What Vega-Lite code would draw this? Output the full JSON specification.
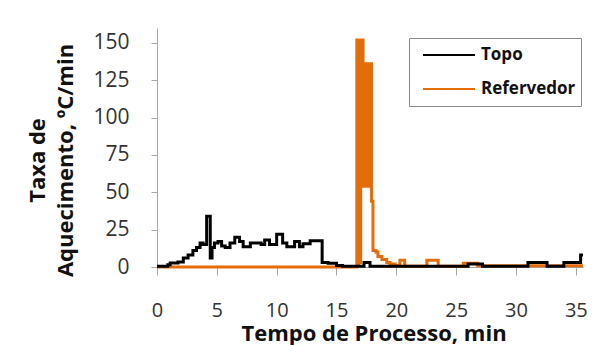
{
  "$schema": "https://vega.github.io/schema/vega-lite/v6.json",
  "width": 426,
  "height": 239,
  "autosize": {"type": "none"},
  "padding": {"left": 157, "top": 28, "right": 29, "bottom": 78},
  "background": "white",
  "config": {"view": {"stroke": null}, "font": "Open Sans"},
  "data": {
    "values": [
      {"serie": "Topo", "t": 0, "v": 0.5},
      {"serie": "Topo", "t": 0.9, "v": 1.5},
      {"serie": "Topo", "t": 1.1, "v": 2.7},
      {"serie": "Topo", "t": 1.75, "v": 3.4},
      {"serie": "Topo", "t": 2.2, "v": 6},
      {"serie": "Topo", "t": 2.6, "v": 8},
      {"serie": "Topo", "t": 3.0, "v": 11},
      {"serie": "Topo", "t": 3.3, "v": 13},
      {"serie": "Topo", "t": 3.6, "v": 16},
      {"serie": "Topo", "t": 3.85, "v": 15},
      {"serie": "Topo", "t": 4.15, "v": 34},
      {"serie": "Topo", "t": 4.45, "v": 6},
      {"serie": "Topo", "t": 4.6, "v": 13},
      {"serie": "Topo", "t": 4.8, "v": 16},
      {"serie": "Topo", "t": 5.1, "v": 17},
      {"serie": "Topo", "t": 5.4, "v": 14},
      {"serie": "Topo", "t": 5.7, "v": 13},
      {"serie": "Topo", "t": 6.1, "v": 16},
      {"serie": "Topo", "t": 6.5, "v": 20},
      {"serie": "Topo", "t": 6.9, "v": 17},
      {"serie": "Topo", "t": 7.2, "v": 13.5},
      {"serie": "Topo", "t": 7.8, "v": 16},
      {"serie": "Topo", "t": 8.7, "v": 15},
      {"serie": "Topo", "t": 9.0, "v": 18},
      {"serie": "Topo", "t": 9.4, "v": 15},
      {"serie": "Topo", "t": 10.0, "v": 22},
      {"serie": "Topo", "t": 10.5, "v": 16},
      {"serie": "Topo", "t": 10.85, "v": 13.5},
      {"serie": "Topo", "t": 11.5, "v": 17},
      {"serie": "Topo", "t": 11.9, "v": 13.5},
      {"serie": "Topo", "t": 12.2, "v": 15.5},
      {"serie": "Topo", "t": 12.8, "v": 17.5},
      {"serie": "Topo", "t": 13.8, "v": 3},
      {"serie": "Topo", "t": 14.3, "v": 2.5},
      {"serie": "Topo", "t": 15.0, "v": 1},
      {"serie": "Topo", "t": 15.5, "v": 0.5},
      {"serie": "Topo", "t": 17.3, "v": 3},
      {"serie": "Topo", "t": 17.8, "v": 0.5},
      {"serie": "Topo", "t": 26.0, "v": 2},
      {"serie": "Topo", "t": 27.2, "v": 0.5},
      {"serie": "Topo", "t": 31.0, "v": 3},
      {"serie": "Topo", "t": 32.6, "v": 0.5},
      {"serie": "Topo", "t": 34.0, "v": 3},
      {"serie": "Topo", "t": 35.4, "v": 8},
      {"serie": "Topo", "t": 35.6, "v": 8},
      {"serie": "Refervedor", "t": 0, "v": 0},
      {"serie": "Refervedor", "t": 16.7, "v": 152},
      {"serie": "Refervedor", "t": 16.78, "v": 2},
      {"serie": "Refervedor", "t": 16.86, "v": 152},
      {"serie": "Refervedor", "t": 16.94, "v": 3},
      {"serie": "Refervedor", "t": 17.02, "v": 152},
      {"serie": "Refervedor", "t": 17.1, "v": 54},
      {"serie": "Refervedor", "t": 17.16, "v": 152},
      {"serie": "Refervedor", "t": 17.22, "v": 54},
      {"serie": "Refervedor", "t": 17.28, "v": 136},
      {"serie": "Refervedor", "t": 17.36, "v": 54},
      {"serie": "Refervedor", "t": 17.44, "v": 136},
      {"serie": "Refervedor", "t": 17.52, "v": 54},
      {"serie": "Refervedor", "t": 17.6, "v": 136},
      {"serie": "Refervedor", "t": 17.68, "v": 54},
      {"serie": "Refervedor", "t": 17.76, "v": 136},
      {"serie": "Refervedor", "t": 17.93, "v": 44},
      {"serie": "Refervedor", "t": 18.05, "v": 11},
      {"serie": "Refervedor", "t": 18.3, "v": 10},
      {"serie": "Refervedor", "t": 18.46, "v": 7},
      {"serie": "Refervedor", "t": 18.8, "v": 5},
      {"serie": "Refervedor", "t": 19.2, "v": 3},
      {"serie": "Refervedor", "t": 19.47, "v": 2},
      {"serie": "Refervedor", "t": 19.9, "v": 1},
      {"serie": "Refervedor", "t": 20.3, "v": 4.5},
      {"serie": "Refervedor", "t": 20.7, "v": 0.5},
      {"serie": "Refervedor", "t": 22.55, "v": 4.5},
      {"serie": "Refervedor", "t": 23.5, "v": 0.5},
      {"serie": "Refervedor", "t": 25.6, "v": 2.5},
      {"serie": "Refervedor", "t": 26.8, "v": 0.8},
      {"serie": "Refervedor", "t": 35.6, "v": 0.8}
    ]
  },
  "encoding": {
    "x": {
      "field": "t",
      "type": "quantitative",
      "scale": {"domain": [0, 35.6], "nice": false, "zero": false},
      "axis": {
        "title": "Tempo de Processo, min",
        "values": [0, 5, 10, 15, 20, 25, 30, 35],
        "grid": false,
        "domainColor": "#a6a6a6",
        "tickColor": "#a6a6a6",
        "tickSize": 8,
        "labelFontSize": 20,
        "labelColor": "#333333",
        "labelPadding": 25,
        "labelFlush": false,
        "labelFont": "Open Sans",
        "titleFont": "Open Sans",
        "titleFontSize": 22,
        "titleFontWeight": "bold",
        "titleColor": "#111111",
        "titleBaseline": "top",
        "titleAlign": "center",
        "titleY": 56,
        "titleX": 216.5
      }
    },
    "y": {
      "field": "v",
      "type": "quantitative",
      "scale": {"domain": [0, 160], "nice": false},
      "axis": {
        "title": ["Taxa de", "Aquecimento, ºC/min"],
        "values": [0, 25, 50, 75, 100, 125, 150],
        "grid": false,
        "domainColor": "#a6a6a6",
        "tickColor": "#a6a6a6",
        "tickSize": 6,
        "labelFontSize": 21,
        "labelColor": "#333333",
        "labelPadding": 22,
        "labelFont": "Open Sans",
        "titleFont": "Open Sans",
        "titleFontSize": 22,
        "titleFontWeight": "bold",
        "titleColor": "#111111",
        "titleAngle": -90,
        "titleBaseline": "middle",
        "titleAlign": "center",
        "titleLineHeight": 28,
        "titleX": -119.6,
        "titleY": 132
      }
    },
    "color": {
      "field": "serie",
      "type": "nominal",
      "scale": {"domain": ["Topo", "Refervedor"], "range": ["#000000", "#E46C0A"]},
      "legend": {
        "orient": "none",
        "legendX": 252,
        "legendY": 10,
        "title": null,
        "symbolType": "stroke",
        "symbolSize": 2704,
        "symbolStrokeWidth": 2,
        "clipHeight": 24,
        "rowPadding": 10,
        "padding": 5,
        "symbolOffset": 8,
        "labelOffset": 5,
        "labelFontSize": 17,
        "labelFontWeight": "bold",
        "labelFont": "Open Sans",
        "labelColor": "#111111",
        "strokeColor": "#8a8a8a",
        "fillColor": "white"
      }
    }
  },
  "layer": [
    {
      "transform": [{"filter": "datum.serie === 'Refervedor'"}],
      "mark": {"type": "line", "interpolate": "step-after", "strokeWidth": 3}
    },
    {
      "transform": [{"filter": "datum.serie === 'Topo'"}],
      "mark": {"type": "line", "interpolate": "step-after", "strokeWidth": 3}
    }
  ]
}
